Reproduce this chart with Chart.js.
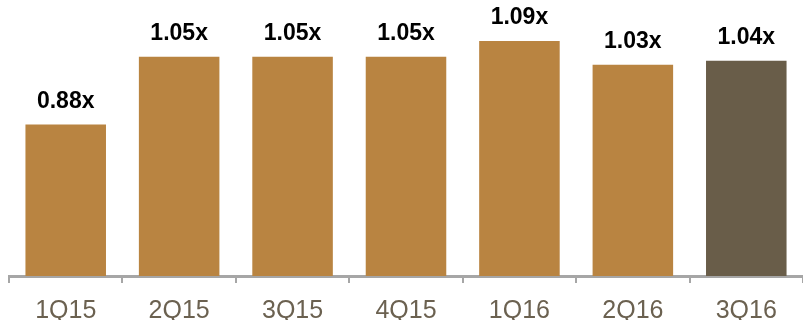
<!DOCTYPE html>
<html>
<head>
<meta charset="utf-8">
<style>
  html, body { margin: 0; padding: 0; background: #fff; }
  #wrap { width: 803px; height: 320px; }
</style>
<script src="https://cdn.jsdelivr.net/npm/chart.js@4/dist/chart.umd.min.js"></script>
</head>
<body>
<div id="wrap"><canvas id="barChart"></canvas></div>
<script>
var quarters = ['1Q15', '2Q15', '3Q15', '4Q15', '1Q16', '2Q16', '3Q16'];
var coverage = [0.88, 1.05, 1.05, 1.05, 1.09, 1.03, 1.04];
var valueLabels = ['0.88x', '1.05x', '1.05x', '1.05x', '1.09x', '1.03x', '1.04x'];

var barColors = coverage.map(function (v, i) {
    return i === coverage.length - 1 ? '#695d49' : '#b98441';
});

// value labels above bars
var topLabels = {
    id: 'topLabels',
    afterDatasetsDraw: function (chart) {
        var ctx = chart.ctx;
        var meta = chart.getDatasetMeta(0);
        ctx.save();
        ctx.font = 'bold 23px "Liberation Sans", Arial, sans-serif';
        ctx.fillStyle = '#000';
        ctx.textAlign = 'center';
        ctx.textBaseline = 'alphabetic';
        meta.data.forEach(function (bar, i) {
            ctx.fillText(valueLabels[i], bar.x, bar.y - 17);
        });
        ctx.restore();
    }
};

var barChart = new Chart(document.getElementById('barChart'), {
    type: 'bar',
    data: {
        labels: quarters,
        datasets: [{
            data: coverage,
            backgroundColor: barColors,
            borderWidth: 0,
            categoryPercentage: 1,
            barPercentage: 0.71
        }]
    },
    options: {
        responsive: true,
        maintainAspectRatio: false,
        animation: false,
        layout: { padding: { top: 17, left: 9, right: -6, bottom: 0 } },
        plugins: { legend: { display: false }, tooltip: { enabled: false } },
        scales: {
            x: {
                offset: true,
                afterFit: function (scale) { scale.height = 44; },
                grid: {
                    offset: true,
                    drawOnChartArea: false,
                    drawTicks: true,
                    tickLength: 7,
                    color: '#a6a6a6',
                    lineWidth: 2
                },
                border: { display: true, color: '#a6a6a6', width: 3 },
                ticks: {
                    color: '#6b6150',
                    padding: 13,
                    font: { family: '"Liberation Sans", Arial, sans-serif', size: 25 }
                }
            },
            y: {
                display: false,
                min: 0.5,
                max: 1.15
            }
        }
    },
    plugins: [topLabels]
});
</script>
</body>
</html>
